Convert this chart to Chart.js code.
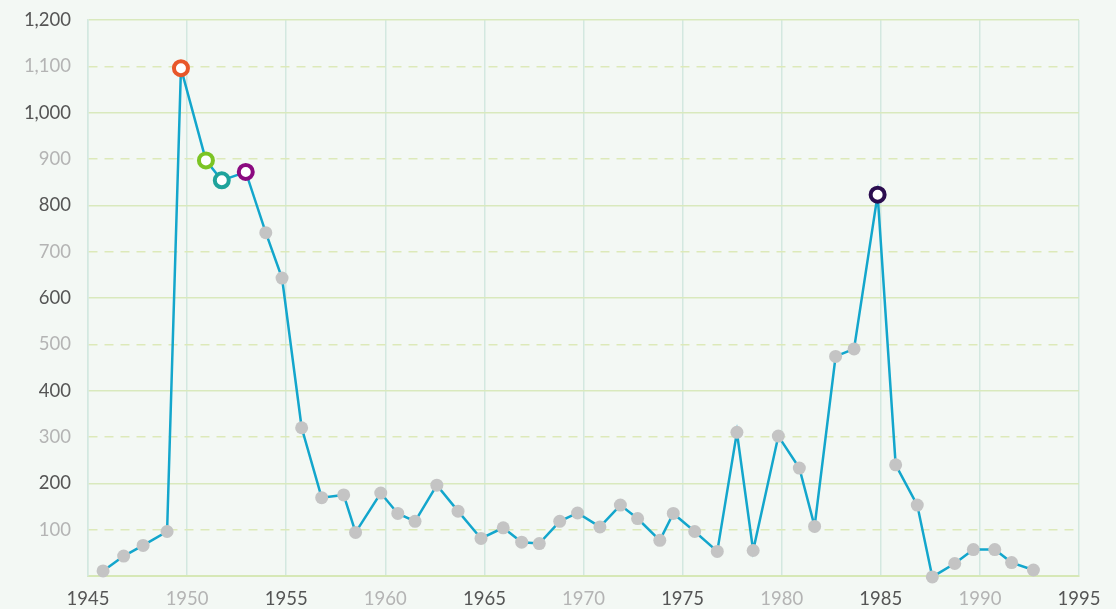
<!DOCTYPE html>
<html>
<head>
<meta charset="utf-8">
<script src="https://cdn.jsdelivr.net/npm/chart.js@4"></script>
<style>
  html, body { margin: 0; padding: 0; background: #f3f8f4; }
  #wrap { width: 1116px; height: 609px; position: relative; }
</style>
</head>
<body>
<div id="wrap"><canvas id="myChart"></canvas></div>
<script>
// data
const years = [1945.76, 1946.8, 1947.78, 1948.99, 1949.69, 1950.95, 1951.75, 1952.96, 1953.97, 1954.79,
  1955.78, 1956.79, 1957.9, 1958.5, 1959.77, 1960.63, 1961.5, 1962.6, 1963.67, 1964.83,
  1965.95, 1966.88, 1967.77, 1968.8, 1969.7, 1970.83, 1971.86, 1972.73, 1973.85, 1974.53,
  1975.61, 1976.75, 1977.74, 1978.56, 1979.83, 1980.89, 1981.66, 1982.72, 1983.65, 1984.84,
  1985.75, 1986.84, 1987.6, 1988.73, 1989.67, 1990.75, 1991.6, 1992.7];
const values = [11, 43, 66, 96, 1096, 897, 854, 872, 741, 643,
  320, 169, 175, 94, 179, 135, 118, 196, 140, 81,
  104, 73, 70, 118, 136, 106, 153, 124, 77, 135,
  96, 53, 310, 55, 302, 233, 107, 474, 490, 823,
  240, 153, -2, 27, 57, 57, 29, 13];
// ring colours of the marked points (index -> colour)
const highlights = { 4: '#e8572a', 5: '#7cc424', 6: '#1fa39c', 7: '#8b0a80', 39: '#2b0d4f' };
const yTicks = [0, 100, 200, 300, 400, 500, 600, 700, 800, 900, 1000, 1100, 1200];
const xTicks = [1945, 1950, 1955, 1960, 1965, 1970, 1975, 1980, 1985, 1990, 1995];

const points = years.map((x, i) => ({ x: x, y: values[i] }));
const fillColors = values.map((v, i) => highlights[i] ? '#ffffff' : '#c4c4c4');
const ringColors = values.map((v, i) => highlights[i] || '#c4c4c4');
const ringWidths = values.map((v, i) => highlights[i] ? 4 : 0);
const radii = values.map((v, i) => highlights[i] ? 7 : 6.5);

const ctx = document.getElementById('myChart');
new Chart(ctx, {
  type: 'line',
  data: {
    datasets: [{
      data: points,
      borderColor: '#13a6cc',
      borderWidth: 2.5,
      tension: 0,
      fill: false,
      clip: false,
      pointRadius: radii,
      pointHoverRadius: radii,
      pointBackgroundColor: fillColors,
      pointBorderColor: ringColors,
      pointBorderWidth: ringWidths
    }]
  },
  options: {
    responsive: true,
    maintainAspectRatio: false,
    animation: false,
    layout: { padding: { top: 20, right: 37, left: 0, bottom: 0 } },
    plugins: {
      legend: { display: false },
      tooltip: { enabled: false }
    },
    scales: {
      x: {
        type: 'linear',
        min: 1945,
        max: 1995,
        afterBuildTicks: axis => { axis.ticks = xTicks.map(v => ({ value: v })); },
        afterFit: axis => { axis.height = 33; },
        grid: { color: '#d3e8e0', lineWidth: 1.5, drawTicks: false },
        border: { color: '#d6e8b6', width: 2 },
        ticks: {
          padding: 12,
          font: { family: 'Lato', size: 18.5 },
          color: c => ((c.tick.value - 1945) % 10 === 0 ? '#555555' : '#b4b4b4'),
          callback: v => String(v)
        }
      },
      y: {
        min: 0,
        max: 1200,
        afterBuildTicks: axis => { axis.ticks = yTicks.map(v => ({ value: v })); },
        afterFit: axis => {
          axis.width = 88;
          axis.paddingTop = 0;
          axis.paddingBottom = 0;
        },
        grid: {
          drawTicks: false,
          lineWidth: 1.5,
          color: c => (c.tick.value % 200 === 0 ? '#d9e9bd' : '#dde9b9')
        },
        border: {
          color: '#d3e8e0',
          width: 1.5,
          dash: c => (c.tick && c.tick.value % 200 !== 0 ? [9, 7] : [])
        },
        ticks: {
          padding: 17,
          font: { family: 'Lato', size: 18.5 },
          color: c => (c.tick.value % 200 === 0 ? '#555555' : '#b4b4b4'),
          callback: v => (v === 0 ? '' : v.toLocaleString('en-US'))
        }
      }
    }
  }
});
</script>
</body>
</html>
